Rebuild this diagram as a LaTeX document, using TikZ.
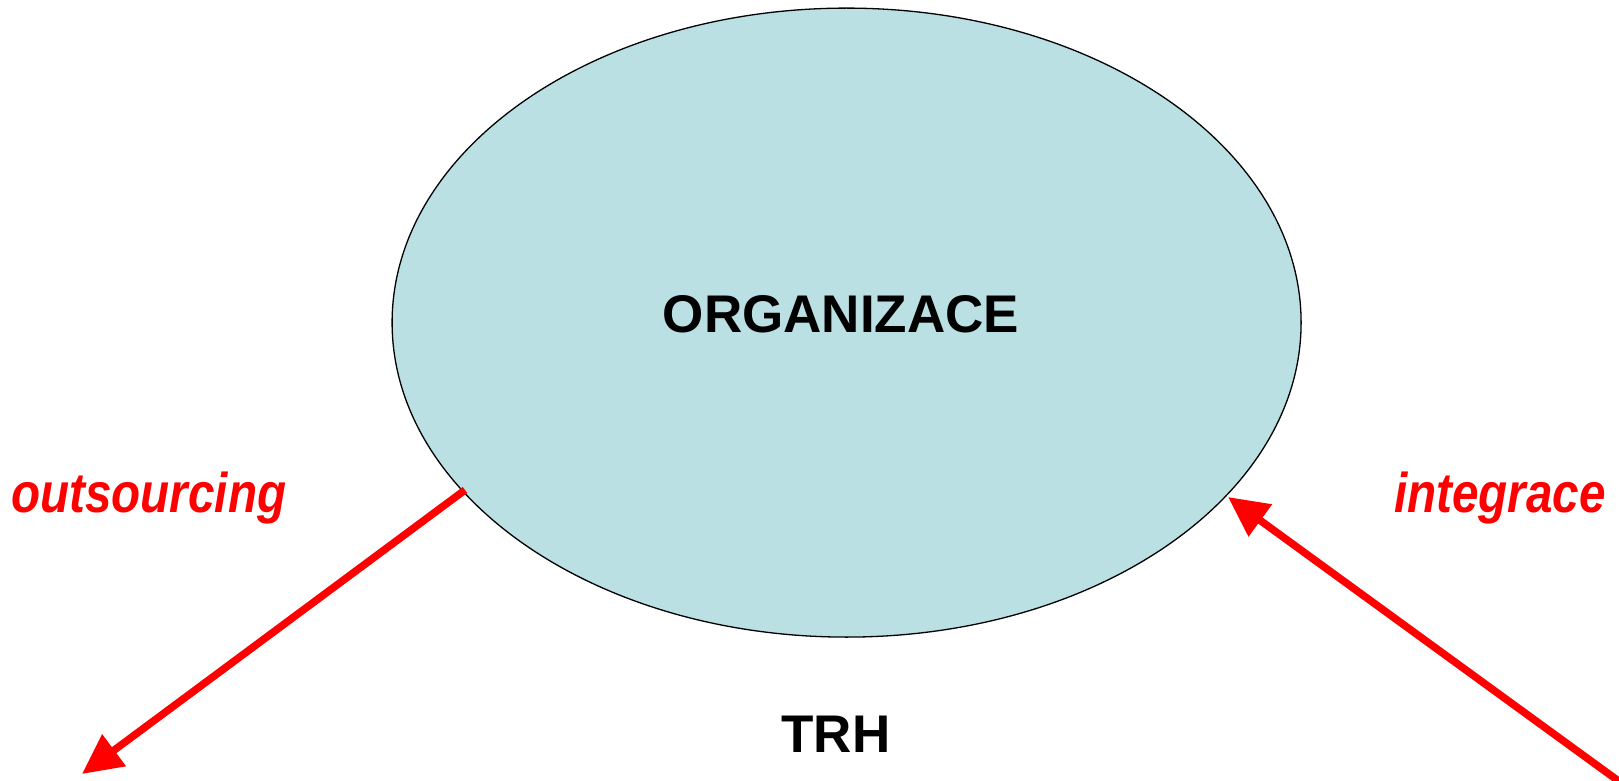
\documentclass[tikz,border=0pt]{standalone}
\usepackage{fontspec}
\setmainfont{Liberation Sans}
\usetikzlibrary{shapes.geometric,arrows.meta}
\definecolor{orgfill}{RGB}{186,224,228}
\definecolor{arrred}{RGB}{255,0,0}
\tikzset{
  orgshape/.style={ellipse, draw=black, line width=1.3pt, fill=orgfill, minimum width=909pt, minimum height=629pt, inner sep=0pt},
  bigtext/.style={inner sep=0pt, anchor=base, font=\fontsize{53}{62}\selectfont\bfseries},
  redlabel/.style={inner sep=0pt, anchor=base west, text=arrred, xscale=0.85, font=\fontsize{56}{66}\selectfont\bfseries\itshape},
  redarrow/.style={draw=arrred, line width=7.5pt, -{Triangle[length=40pt,width=38pt]}}
}
\begin{document}
\begin{tikzpicture}[x=1pt,y=-1pt]
\useasboundingbox (0,0) rectangle (1619,781);
\node[orgshape] (org) at (846.6,322.6) {};
\node[bigtext] (orgtext) at (841,332) {ORGANIZACE};
\node[bigtext] (trh) at (836,752.7) {TRH};
\node[redlabel] (out) at (11,512) {outsourcing};
\node[redlabel] (int) at (1394,512) {integrace};
\coordinate (outstart) at (465,490);
\coordinate (outend) at (82,774);
\coordinate (intstart) at (1624,785);
\coordinate (intend) at (1228,497);
\draw[redarrow] (outstart) -- (outend);
\draw[redarrow] (intstart) -- (intend);
\end{tikzpicture}
\end{document}
